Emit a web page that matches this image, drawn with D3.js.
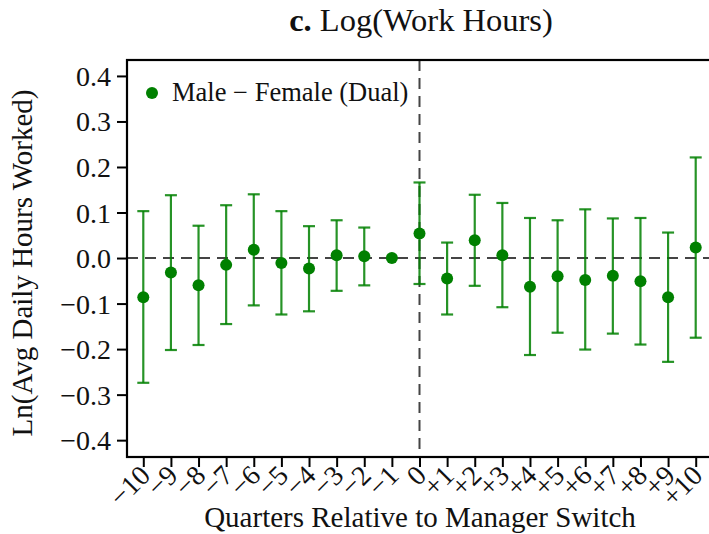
<!DOCTYPE html>
<html>
<head>
<meta charset="utf-8">
<style>
  body { margin: 0; background: #fff; }
  svg { display: block; font-family: "Liberation Serif", "Times New Roman", serif; }
</style>
</head>
<body>
<svg id="chart" width="709" height="534"></svg>
<script src="https://cdn.jsdelivr.net/npm/d3@7/dist/d3.min.js"></script>
<script>
// event-time coefficients, male - female (dual)
var quarters = [-10, -9, -8, -7, -6, -5, -4, -3, -2, -1, 0, 1, 2, 3, 4, 5, 6, 7, 8, 9, 10];
var estimates = [-0.086, -0.032, -0.060, -0.015, 0.018, -0.011, -0.023, 0.006, 0.004, 0.000, 0.054,
                 -0.045, 0.039, 0.006, -0.063, -0.040, -0.048, -0.039, -0.051, -0.086, 0.023];
var upper = [0.103, 0.138, 0.071, 0.116, 0.140, 0.103, 0.070, 0.083, 0.067, null, 0.166,
             0.034, 0.139, 0.121, 0.088, 0.083, 0.107, 0.087, 0.088, 0.056, 0.221];
var lower = [-0.274, -0.202, -0.191, -0.145, -0.104, -0.124, -0.117, -0.072, -0.060, null, -0.057,
             -0.124, -0.061, -0.108, -0.213, -0.164, -0.201, -0.166, -0.190, -0.228, -0.175];
var yTicks = [0.4, 0.3, 0.2, 0.1, 0.0, -0.1, -0.2, -0.3, -0.4];

var data = quarters.map(function(q, i) {
  return { q: q, est: estimates[i], hi: upper[i], lo: lower[i] };
});

var svg = d3.select("#chart");
var margin = { left: 127, top: 60, right: -3, bottom: 77 },
    width = 709 - margin.left - margin.right,
    height = 534 - margin.top - margin.bottom;

var green = "#008000";

var x = d3.scaleLinear().domain([-10.59, 10.59]).range([margin.left, margin.left + width]);
var y = d3.scaleLinear().domain([-0.437, 0.435]).range([margin.top + height, margin.top]);

function fmtX(d) {
  if (d < 0) return "\u2212" + Math.abs(d);
  if (d > 0) return "+" + d;
  return "0";
}
function fmtY(d) {
  return (d < 0 ? "\u2212" : "") + Math.abs(d).toFixed(1);
}

// reference lines
svg.append("line")
  .attr("x1", margin.left).attr("x2", margin.left + width)
  .attr("y1", y(0)).attr("y2", y(0))
  .attr("stroke", "#444").attr("stroke-width", 2)
  .attr("stroke-dasharray", "11,7");
svg.append("line")
  .attr("x1", x(0)).attr("x2", x(0))
  .attr("y1", margin.top).attr("y2", margin.top + height)
  .attr("stroke", "#444").attr("stroke-width", 2)
  .attr("stroke-dasharray", "11,7");

// error bars
var bars = svg.append("g").selectAll("g")
  .data(data.filter(function(d) { return d.hi !== null; }))
  .join("g")
  .attr("stroke", green).attr("stroke-opacity", 0.85).attr("stroke-width", 2.2);
bars.append("line")
  .attr("x1", function(d) { return x(d.q); }).attr("x2", function(d) { return x(d.q); })
  .attr("y1", function(d) { return y(d.hi); }).attr("y2", function(d) { return y(d.lo); });
bars.append("line")
  .attr("x1", function(d) { return x(d.q) - 6; }).attr("x2", function(d) { return x(d.q) + 6; })
  .attr("y1", function(d) { return y(d.hi); }).attr("y2", function(d) { return y(d.hi); });
bars.append("line")
  .attr("x1", function(d) { return x(d.q) - 6; }).attr("x2", function(d) { return x(d.q) + 6; })
  .attr("y1", function(d) { return y(d.lo); }).attr("y2", function(d) { return y(d.lo); });

// points
svg.append("g").selectAll("circle")
  .data(data)
  .join("circle")
  .attr("cx", function(d) { return x(d.q); })
  .attr("cy", function(d) { return y(d.est); })
  .attr("r", 6)
  .attr("fill", green);

// axes
var yAxis = svg.append("g")
  .attr("transform", "translate(" + margin.left + ",0)")
  .call(d3.axisLeft(y).tickValues(yTicks).tickFormat(fmtY).tickSize(10).tickPadding(6));
var xAxis = svg.append("g")
  .attr("transform", "translate(0," + (margin.top + height) + ")")
  .call(d3.axisBottom(x).tickValues(quarters).tickFormat(fmtX).tickSize(10).tickPadding(4));

[yAxis, xAxis].forEach(function(g) {
  g.attr("font-family", null).attr("font-size", 28);
  g.select(".domain").remove();
  g.selectAll(".tick line").attr("stroke", "#000").attr("stroke-width", 2);
  g.selectAll("text").attr("fill", "#111");
});
yAxis.selectAll("text").attr("dy", "0.34em");
xAxis.selectAll("text")
  .attr("text-anchor", "end")
  .attr("dy", "0")
  .attr("transform", "translate(8,20) rotate(-45)")
  .attr("y", 0).attr("x", 0);

// frame
svg.append("rect")
  .attr("x", margin.left).attr("y", margin.top)
  .attr("width", width).attr("height", height)
  .attr("fill", "none").attr("stroke", "#000").attr("stroke-width", 2.2);

// legend
svg.append("circle").attr("cx", 152).attr("cy", 93).attr("r", 6).attr("fill", green);
svg.append("text").attr("x", 172).attr("y", 101)
  .attr("font-size", 26.5).attr("fill", "#111")
  .text("Male \u2212 Female (Dual)");

// title
var title = svg.append("text").attr("x", 421).attr("y", 31)
  .attr("text-anchor", "middle").attr("font-size", 32.5).attr("fill", "#111");
title.append("tspan").attr("font-weight", "bold").text("c.");
title.append("tspan").text(" Log(Work Hours)");

// axis titles
svg.append("text")
  .attr("x", 420).attr("y", 527)
  .attr("text-anchor", "middle").attr("font-size", 29).attr("fill", "#111")
  .text("Quarters Relative to Manager Switch");
svg.append("text")
  .attr("transform", "translate(32,263) rotate(-90)")
  .attr("text-anchor", "middle").attr("font-size", 29).attr("fill", "#111")
  .text("Ln(Avg Daily Hours Worked)");
</script>
</body>
</html>
